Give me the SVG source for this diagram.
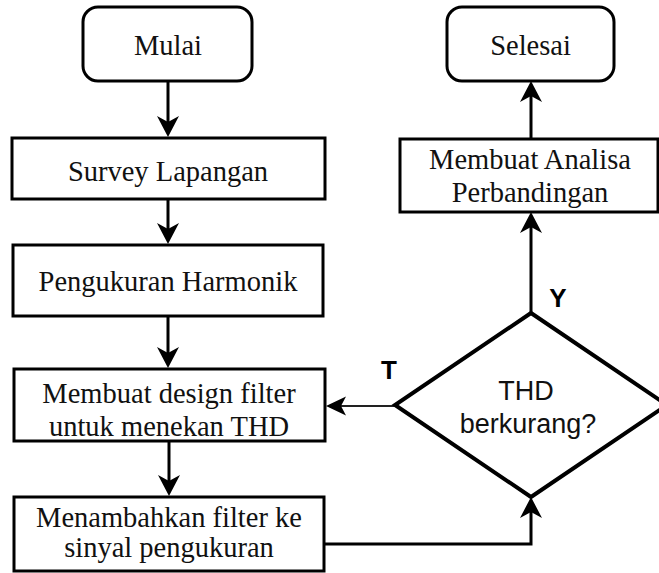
<svg xmlns="http://www.w3.org/2000/svg" width="659" height="573" viewBox="0 0 659 573">
<style>
.box{fill:#fff;stroke:#000;stroke-width:3}
.dia{fill:#fff;stroke:#000;stroke-width:4;stroke-linejoin:miter}
.t{font-family:"Liberation Serif","Times New Roman",serif;font-size:28.5px;fill:#111;text-anchor:middle}
.s{font-family:"Liberation Sans",Arial,sans-serif;font-size:27px;fill:#111;text-anchor:middle}
.lbl{font-family:"Liberation Sans",Arial,sans-serif;font-size:26px;font-weight:bold;fill:#000;text-anchor:middle}
.c{fill:none;stroke:#000;stroke-width:3}
.c2{fill:none;stroke:#222;stroke-width:2}
</style>
<defs>
<marker id="ah" markerUnits="userSpaceOnUse" viewBox="-8 -12 23 24" markerWidth="23" markerHeight="24" refX="0" refY="0" orient="auto" overflow="visible">
<path d="M14,0 L-7,-11 L-1,0 L-7,11 Z" fill="#000"/>
</marker>
<marker id="ah2" markerUnits="userSpaceOnUse" viewBox="-8 -12 23 24" markerWidth="23" markerHeight="24" refX="0" refY="0" orient="auto" overflow="visible">
<path d="M14,0 L-6,-9.5 L-1,0 L-6,9.5 Z" fill="#000"/>
</marker>
</defs>
<g id="connectors">
<path class="c" d="M168,81 V123" marker-end="url(#ah)"/>
<path class="c" d="M168,199 V230" marker-end="url(#ah)"/>
<path class="c" d="M168,316 V354" marker-end="url(#ah)"/>
<path class="c" d="M169,441 V482" marker-end="url(#ah)"/>
<path class="c" d="M325,544 H531 V511" marker-end="url(#ah)"/>
<path class="c" d="M531,313 V226" marker-end="url(#ah)"/>
<path class="c" d="M531,138 V95" marker-end="url(#ah)"/>
<path class="c2" d="M395,406 H340" marker-end="url(#ah2)"/>
<text class="lbl" x="389" y="379">T</text>
<text class="lbl" x="558" y="307">Y</text>
</g>
<g id="mulai">
<rect class="box" x="83" y="7" width="169" height="74" rx="15"/>
<text class="t" x="168" y="55">Mulai</text>
</g>
<g id="survey">
<rect class="box" x="12" y="138" width="313" height="61"/>
<text class="t" x="168" y="181">Survey Lapangan</text>
</g>
<g id="pengukuran">
<rect class="box" x="13" y="245" width="310" height="71"/>
<text class="t" x="168" y="291">Pengukuran Harmonik</text>
</g>
<g id="design">
<rect class="box" x="14" y="369" width="311" height="72"/>
<text class="t" x="169" y="403">Membuat design filter</text>
<text class="t" x="169" y="436">untuk menekan THD</text>
</g>
<g id="menambahkan">
<rect class="box" x="14" y="497" width="310" height="74"/>
<text class="t" x="169" y="527">Menambahkan filter ke</text>
<text class="t" x="169" y="557">sinyal pengukuran</text>
</g>
<g id="decision">
<path class="dia" d="M531,313 L667,405 L531,497 L395,405 Z"/>
<text class="s" x="526" y="400">THD</text>
<text class="s" x="528" y="433">berkurang?</text>
</g>
<g id="analisa">
<rect class="box" x="400" y="139" width="258" height="73"/>
<text class="t" x="530" y="169">Membuat Analisa</text>
<text class="t" x="530" y="202">Perbandingan</text>
</g>
<g id="selesai">
<rect class="box" x="447" y="7" width="167" height="74" rx="15"/>
<text class="t" x="530.5" y="55">Selesai</text>
</g>
</svg>
